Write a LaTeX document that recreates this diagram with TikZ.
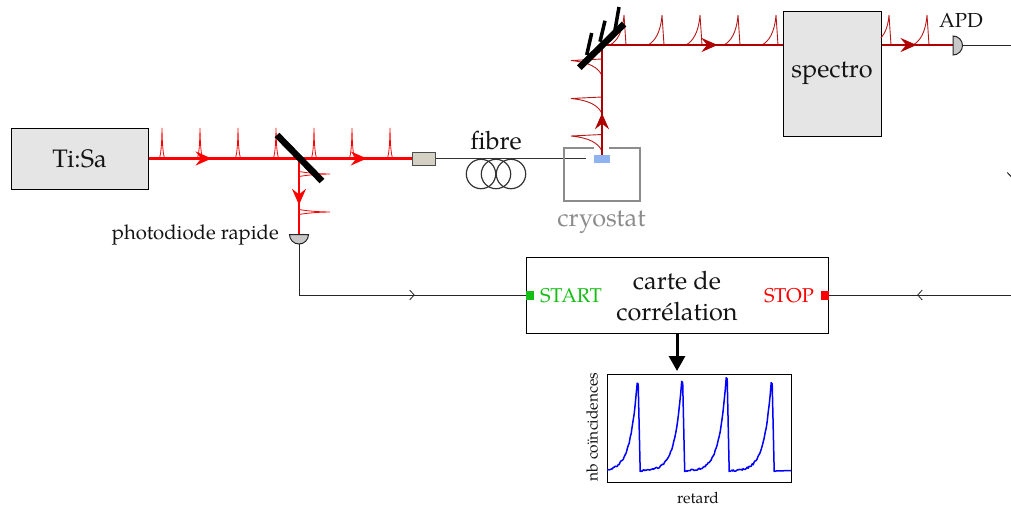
\documentclass[tikz,border=0pt]{standalone}
\usepackage{fontspec}
\setmainfont{TeX Gyre Pagella}
\usetikzlibrary{arrows.meta,decorations.markings}
\definecolor{dkred}{RGB}{175,0,0}
\definecolor{boxgray}{RGB}{229,229,229}
\definecolor{detgray}{RGB}{200,200,200}
\definecolor{coupler}{RGB}{212,209,196}
\definecolor{blueblock}{RGB}{143,179,240}
\definecolor{cryogray}{RGB}{140,140,140}
\definecolor{startgreen}{RGB}{20,190,20}
\tikzset{
  x=1pt,y=-1pt,
  graybox/.style={draw=black,fill=boxgray,line width=1pt,inner sep=0pt,minimum width=#1},
  bigtxt/.style={font=\fontsize{25.3}{31}\selectfont,inner sep=0pt,align=center,text=black!92},
  smalltxt/.style={font=\fontsize{20.3}{24}\selectfont,inner sep=0pt,text=black!92},
  tinytxt/.style={font=\fontsize{15.6}{18}\selectfont,inner sep=0pt,text=black!92},
  redbeam/.style={draw=red,line width=2.2pt},
  darkbeam/.style={draw=dkred,line width=2.2pt},
  fibreline/.style={draw=black!80,line width=1.2pt},
  sigline/.style={draw=black!85,line width=1pt},
  mirrorbar/.style={draw=black,line width=6.5pt},
  mirrorstroke/.style={draw=black,line width=3.5pt},
  barbat/.style={postaction={decorate,decoration={markings,mark=at position #1 with {\arrow{Straight Barb[length=4.5pt,width=10pt,line width=0.8pt]}}}}},
  tipat/.style={postaction={decorate,decoration={markings,mark=at position #1 with {\arrow{Stealth[length=16pt,width=14pt,inset=5.5pt]}}}}},
  redpulse/.style={draw=red,line width=0.8pt},
  darkpulse/.style={draw=dkred!90!white,line width=0.9pt},
  detshape/.style={draw=black!85,fill=detgray,line width=1pt},
  bluecurve/.style={draw=blue,line width=1.5pt,line join=round},
}
\newcommand{\hspike}[1]{\draw[redpulse] (#1-2.5,158) .. controls (#1-0.6,152) and (#1-0.2,140) .. (#1,128) .. controls (#1+0.2,140) and (#1+0.6,152) .. (#1+2.5,158);}
\newcommand{\vspike}[1]{\draw[redpulse] (299,#1-2.5) .. controls (310,#1-0.6) and (320,#1-0.2) .. (330,#1) .. controls (320,#1+0.2) and (310,#1+0.6) .. (299,#1+2.5);}
\newcommand{\hdecay}[1]{\draw[darkpulse] (#1-14,45) .. controls (#1-7,41) and (#1-1.5,33) .. (#1,15) -- (#1+2,45);}
\newcommand{\vdecay}[1]{\draw[darkpulse] (602,#1+15) .. controls (598,#1+7) and (590,#1+2) .. (571,#1) -- (602,#1-1.5);}
\begin{document}
\begin{tikzpicture}
\useasboundingbox (0,0) rectangle (1011,509);
% nodes
\node[graybox=137pt,minimum height=61pt,bigtxt] (tisa) at (79.5,158.5) {Ti:Sa};
\node[draw=black!70,fill=coupler,line width=1pt,minimum width=23pt,minimum height=13pt,inner sep=0pt] (coup) at (423.5,158.5) {};
\node[graybox=98pt,minimum height=125pt,bigtxt] (spec) at (832,73.5) {spectro};
\node[draw=black,fill=white,line width=1pt,minimum width=302pt,minimum height=76pt,inner sep=0pt] (card) at (677,295) {};
\node[bigtxt] (cardtxt) at (677,296) {carte de\\corrélation};
\node[fill=startgreen,minimum width=8pt,minimum height=9pt,inner sep=0pt] (start) at (530,295) {};
\node[fill=red,minimum width=8pt,minimum height=9pt,inner sep=0pt] (stop) at (825,295) {};
\node[font=\fontsize{20}{24}\selectfont,inner sep=0pt,text=startgreen,anchor=west] (starttxt) at (540,296) {START};
\node[font=\fontsize{20}{24}\selectfont,inner sep=0pt,text=red,anchor=east] (stoptxt) at (814,296) {STOP};
\node[bigtxt] (fibtxt) at (496,140.5) {fibre};
\node[bigtxt,text=cryogray] (cryotxt) at (601.5,222) {cryostat};
\node[smalltxt,anchor=east] (phototxt) at (279,234.5) {photodiode rapide};
\node[smalltxt] (apdtxt) at (961,20) {APD};
% named points
\coordinate (spl) at (299,158.5);
\coordinate (pd) at (299,234.5);
\coordinate (sample) at (602,155);
\coordinate (fold) at (602,45);
\coordinate (apd) at (953,45);
\coordinate (apdout) at (963,45);
\coordinate (edgeA) at (1011,45);
\coordinate (edgeB) at (1011,295);
\coordinate (pdout) at (299,244);
\coordinate (corner) at (299,295);
\coordinate (fibend) at (586,158.5);
% pulses
\foreach \x in {162,200,238,276,314,352,390} {\hspike{\x}}
\foreach \y in {174,212} {\vspike{\y}}
\foreach \x in {624,662,700,738,776,927} {\hdecay{\x}}
\draw[darkpulse] (881,38) .. controls (885,33) and (888,27) .. (889,15) -- (891,45);
\foreach \y in {60.5,98.5,136} {\vdecay{\y}}
% beams
\draw[redbeam,tipat=0.24,tipat=0.83] (tisa.east) -- (coup.west);
\draw[redbeam,tipat=0.61] (spl) -- (pd);
\draw[darkbeam,tipat=0.38] (sample) -- (fold);
\draw[darkbeam,tipat=0.64] (fold) -- (spec.west |- fold);
\draw[darkbeam,tipat=0.49] (spec.east |- fold) -- (apd);
% fibre
\draw[fibreline] (coup.east) -- (fibend);
\foreach \x in {481,496,511} {\draw[fibreline] (\x,174) circle (14.7);}
% cryostat
\draw[draw=cryogray,line width=1.6pt] (593.5,147.8) -- (563.7,147.8) -- (563.7,200.8) -- (639.7,200.8) -- (639.7,147.8) -- (609,147.8);
\node[fill=blueblock,minimum width=16pt,minimum height=8pt,inner sep=0pt] (samp) at (602,159) {};
% mirrors
\draw[mirrorbar] (277,135) -- (322,181);
\draw[mirrorbar] (579.3,67.7) -- (624,24);
\draw[mirrorstroke] (586.7,55) -- (591.7,33);
\draw[mirrorstroke] (600,41.7) -- (605,20.7);
\draw[mirrorstroke] (615,30) -- (619,7);
% detectors
\draw[detshape] (953,36) arc (-90:90:9.5) -- cycle;
\draw[detshape] (289.5,234.5) arc (180:0:9.5) -- cycle;
% signal lines
\draw[sigline] (apdout) -- (edgeA);
\draw[sigline,barbat=0.6] (pdout) -- (corner) -- (start.west);
\draw[sigline,barbat=0.516] (edgeB) -- (stop.east);
\draw[sigline] (1007.3,172.5) -- (1011,176.5);
% plot
\node[draw=black,line width=1pt,minimum width=184pt,minimum height=108pt,inner sep=0pt] (plot) at (699,428) {};
\coordinate (plotin) at (677,371);
\draw[draw=black,line width=3pt,-{Triangle[length=15pt,width=16pt]}] (card.south) -- (plotin);
\begin{scope}
\clip (607,374) rectangle (791,482);
\pgfmathsetseed{7}
\foreach \p/\h in {636.7/87,681.2/88,725.7/92,770.7/87} {
  \draw[bluecurve] plot[domain={\p-39.5}:{\p+0.5},samples=41] (\x,{471+0.9*rand-\h*exp((\x-\p-0.5)/7)-1.5*exp((\x-\p+1)/16)}) -- (\p+1.5,{471-\h}) -- (\p+3.5,471.5) -- (\p+5.2,471);
}
\draw[bluecurve] (775.9,471) -- (791,470.5);
\end{scope}
\node[tinytxt,rotate=90] (ylab) at (592,427) {nb coïncidences};
\node[tinytxt] (xlab) at (698,498) {retard};
\end{tikzpicture}
\end{document}
